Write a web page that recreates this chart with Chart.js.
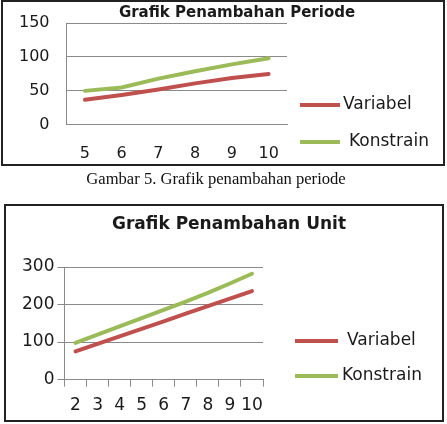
<!DOCTYPE html>
<html>
<head>
<meta charset="utf-8">
<script src="https://cdn.jsdelivr.net/npm/chart.js@4.4.1/dist/chart.umd.min.js"></script>
<style>
  body { margin: 0; background: #fff; overflow: hidden; }
  .wrap { position: absolute; left: 0; width: 447px; }
  .frame { position: absolute; box-sizing: border-box; border: 2px solid #222; pointer-events: none; }
  .caption { position: absolute; left: 0; width: 432px; top: 169px; text-align: center;
    font: 16.6px "Liberation Serif", serif; color: #111; }
</style>
</head>
<body>
<div class="wrap" style="top:0;height:166px"><canvas id="periodeChart" width="447" height="166"></canvas></div>
<div class="frame" style="left:1px;top:0;width:444px;height:166px"></div>
<div class="caption">Gambar 5. Grafik penambahan periode</div>
<div class="wrap" style="top:204px;height:220px"><canvas id="unitChart" width="447" height="220"></canvas></div>
<div class="frame" style="left:4px;top:204px;width:440px;height:218px"></div>
<script>
// data grafik penambahan periode
const periode = ["5", "6", "7", "8", "9", "10"];
const periodeVariabel = [37, 44, 52, 61, 69, 75];
const periodeKonstrain = [50, 55, 68, 79, 89, 98];
const periodeTicks = [0, 50, 100, 150];

// data grafik penambahan unit
const unit = ["2", "3", "4", "5", "6", "7", "8", "9", "10"];
const unitVariabel = [75, 95, 115, 135, 155, 176, 196, 216, 236];
const unitKonstrain = [98, 120, 142, 164, 186, 208, 231, 256, 282];
const unitTicks = [0, 100, 200, 300];

const merah = "#c0504d";
const hijau = "#9bbb59";
const abu = "#8a8a8a";
Chart.defaults.font.family = "'DejaVu Sans', sans-serif";
Chart.defaults.color = "#1a1a1a";

// judul + legenda digambar sendiri supaya posisinya bisa diatur
function judulLegenda(o) {
  return {
    id: "judulLegenda",
    afterDraw(chart) {
      const ctx = chart.ctx;
      ctx.save();
      ctx.fillStyle = "#1a1a1a";
      ctx.textBaseline = "middle";
      ctx.textAlign = "center";
      ctx.font = o.titleFont;
      ctx.fillText(o.title, o.titleX, o.titleY);
      ctx.textAlign = "left";
      ctx.font = o.labelFont;
      chart.data.datasets.forEach((ds, i) => {
        const y = o.legendY[i];
        ctx.strokeStyle = ds.borderColor;
        ctx.lineWidth = 4;
        ctx.beginPath();
        ctx.moveTo(o.legendX, y);
        ctx.lineTo(o.legendX + o.lineLen, y);
        ctx.stroke();
        ctx.fillText(ds.label, o.legendX + o.lineLen + o.gap[i], y);
      });
      ctx.restore();
    },
  };
}

function garis(label, data, warna) {
  return { label, data, borderColor: warna, backgroundColor: warna,
    borderWidth: 4, pointRadius: 0, tension: 0, borderCapStyle: "round" };
}

// Grafik Penambahan Periode
new Chart(document.getElementById("periodeChart"), {
  type: "line",
  data: {
    labels: periode,
    datasets: [
      garis("Variabel", periodeVariabel, merah),
      garis("Konstrain", periodeKonstrain, hijau),
    ],
  },
  options: {
    responsive: false,
    animation: false,
    layout: { padding: { left: 19, right: 160, top: 23, bottom: 3 } },
    plugins: { legend: { display: false }, tooltip: { enabled: false } },
    scales: {
      x: {
        offset: true,
        grid: { drawOnChartArea: false, tickLength: 19, tickColor: "transparent" },
        border: { color: abu },
        ticks: { padding: 0, maxRotation: 0, autoSkip: false, font: { size: 16 } },
      },
      y: {
        min: periodeTicks[0],
        max: periodeTicks[periodeTicks.length - 1],
        ticks: { stepSize: periodeTicks[1] - periodeTicks[0], padding: 0, font: { size: 16 } },
        grid: { color: abu, tickLength: 17, tickColor: "transparent" },
        border: { color: abu },
      },
    },
  },
  plugins: [judulLegenda({
    title: "Grafik Penambahan Periode", titleFont: "bold 15px 'DejaVu Sans'", titleX: 237, titleY: 13,
    labelFont: "17px 'DejaVu Sans'", legendX: 300, lineLen: 40, gap: [3, 9], legendY: [105, 142],
  })],
});

// Grafik Penambahan Unit
new Chart(document.getElementById("unitChart"), {
  type: "line",
  data: {
    labels: unit,
    datasets: [
      garis("Variabel", unitVariabel, merah),
      garis("Konstrain", unitKonstrain, hijau),
    ],
  },
  options: {
    responsive: false,
    animation: false,
    layout: { padding: { left: 19, right: 184, top: 63, bottom: 0 } },
    plugins: { legend: { display: false }, tooltip: { enabled: false } },
    scales: {
      x: {
        offset: true,
        grid: { offset: true, drawOnChartArea: false, color: abu, tickLength: 7 },
        border: { color: abu },
        ticks: { padding: 8.5, maxRotation: 0, minRotation: 0, autoSkip: false, font: { size: 17 } },
      },
      y: {
        min: unitTicks[0],
        max: unitTicks[unitTicks.length - 1],
        ticks: { stepSize: unitTicks[1] - unitTicks[0], padding: 3, font: { size: 17 } },
        grid: { color: abu, tickLength: 7 },
        border: { color: abu },
      },
    },
  },
  plugins: [judulLegenda({
    title: "Grafik Penambahan Unit", titleFont: "bold 17px 'DejaVu Sans'", titleX: 229, titleY: 21,
    labelFont: "17px 'DejaVu Sans'", legendX: 295, lineLen: 43, gap: [9, 4], legendY: [137, 172],
  })],
});
</script>
</body>
</html>
